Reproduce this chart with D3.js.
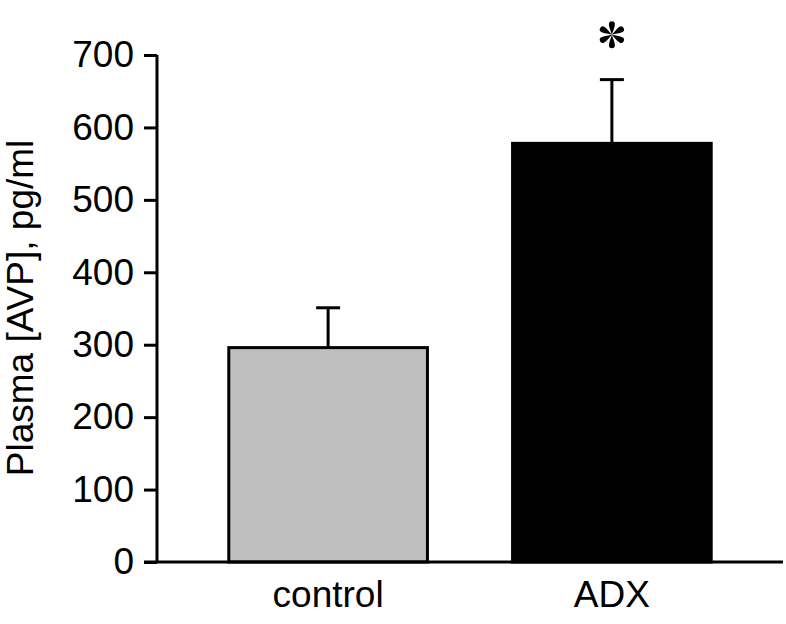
<!DOCTYPE html>
<html>
<head>
<meta charset="utf-8">
<script src="https://cdn.jsdelivr.net/npm/d3@7"></script>
<style>
  body { margin: 0; background: #fff; }
  svg text { font-family: "Liberation Sans", Arial, sans-serif; fill: #000; }
</style>
</head>
<body>
<svg width="786" height="624"></svg>
<script>
// Data
const groups = ["control", "ADX"];
const means = [296, 578];
const errors = [55, 88];
const colors = ["#bfbfbf", "#000000"];
const yTicks = [0, 100, 200, 300, 400, 500, 600, 700];
const significant = [false, true];

const svg = d3.select("svg");

// Scales
const x = d3.scaleBand()
  .domain(groups)
  .range([157, 783])
  .paddingInner(0.3)
  .paddingOuter(0.253);

const y = d3.scaleLinear()
  .domain([0, 700])
  .range([562, 55]);

// Bars
svg.append("g")
  .selectAll("rect")
  .data(groups)
  .join("rect")
  .attr("x", d => x(d))
  .attr("y", (d, i) => y(means[i]))
  .attr("width", x.bandwidth())
  .attr("height", (d, i) => y(0) - y(means[i]))
  .attr("fill", (d, i) => colors[i])
  .attr("stroke", "#000")
  .attr("stroke-width", 3);

// Error bars (upper only)
const err = svg.append("g")
  .attr("stroke", "#000")
  .attr("stroke-width", 3);

groups.forEach((g, i) => {
  const cx = x(g) + x.bandwidth() / 2;
  err.append("line")
    .attr("x1", cx).attr("x2", cx)
    .attr("y1", y(means[i])).attr("y2", y(means[i] + errors[i]));
  err.append("line")
    .attr("x1", cx - 12).attr("x2", cx + 12)
    .attr("y1", y(means[i] + errors[i])).attr("y2", y(means[i] + errors[i]));
});

// Significance asterisk, six teardrop petals
groups.forEach((g, i) => {
  if (!significant[i]) return;
  const cx = x(g) + x.bandwidth() / 2;
  const cy = y(means[i] + errors[i]) - 45;
  const star = svg.append("g").attr("transform", `translate(${cx},${cy})`);
  d3.range(6).forEach(k => {
    star.append("path")
      .attr("transform", `rotate(${k * 60})`)
      .attr("d", "M0,0 C-0.8,-3 -3,-7.5 -3,-10.5 A3,3 0 0 1 3,-10.5 C3,-7.5 0.8,-3 0,0 Z")
      .attr("fill", "#000");
  });
});

// Y axis
const yAxis = svg.append("g")
  .attr("transform", "translate(157,0)")
  .call(d3.axisLeft(y).tickValues(yTicks).tickSize(13).tickPadding(10));

// X axis
const xAxis = svg.append("g")
  .attr("transform", "translate(0,562)")
  .call(d3.axisBottom(x).tickSize(0).tickPadding(19));

[yAxis, xAxis].forEach(a => {
  a.select(".domain").attr("stroke-width", 3);
  a.selectAll(".tick line").attr("stroke-width", 3);
  a.selectAll("text").style("font-size", "37px");
});
xAxis.select(".domain").attr("d", "M144,0H783");
yAxis.select(".domain").attr("d", "M0,55V562");

// Y title
svg.append("text")
  .attr("transform", "translate(33,308) rotate(-90)")
  .attr("text-anchor", "middle")
  .style("font-size", "37px")
  .text("Plasma [AVP], pg/ml");
</script>
</body>
</html>
